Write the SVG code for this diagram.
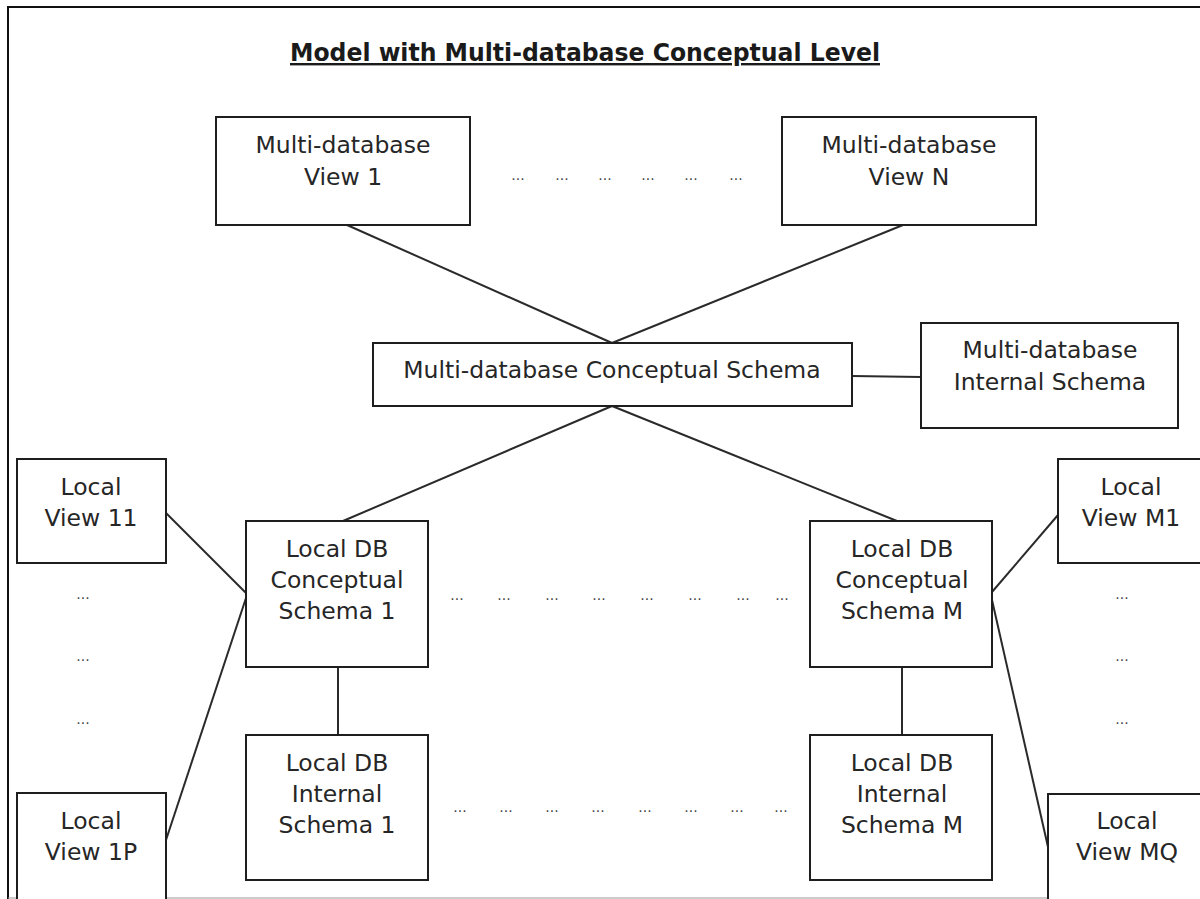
<svg xmlns="http://www.w3.org/2000/svg" width="1200" height="899" viewBox="0 0 1200 899">
  <style>
    .box { fill: #ffffff; stroke: #1e1e1e; stroke-width: 2; }
    .edge { fill: none; stroke: #2a2a2a; stroke-width: 2; }
    .lbl { font-family: "DejaVu Sans", Verdana, sans-serif; font-size: 23.5px; fill: #262626; text-anchor: middle; }
    .dots { font-family: "DejaVu Sans", Verdana, sans-serif; font-size: 14px; fill: #444444; text-anchor: middle; }
    .title { font-family: "DejaVu Sans Condensed", "DejaVu Sans", sans-serif; font-weight: bold; font-size: 24px; fill: #1a1a1a; text-anchor: middle; text-decoration: underline; }
  </style>
  <rect x="0" y="0" width="1200" height="899" fill="#ffffff"/>
  <!-- outer frame -->
  <path d="M8 899 V7 H1200" fill="none" stroke="#111111" stroke-width="2"/>
  <line x1="8" y1="898" x2="1200" y2="898" stroke="#999999" stroke-width="1"/>

  <text class="title" x="585" y="61" textLength="590" lengthAdjust="spacingAndGlyphs">Model with Multi-database Conceptual Level</text>

  <g id="connectors">
    <line class="edge" x1="347" y1="225" x2="612" y2="343"/>
    <line class="edge" x1="903" y1="225" x2="612" y2="343"/>
    <line class="edge" x1="852" y1="376" x2="921" y2="377"/>
    <line class="edge" x1="612" y1="406" x2="343" y2="521"/>
    <line class="edge" x1="612" y1="406" x2="897" y2="521"/>
    <line class="edge" x1="166" y1="513" x2="246" y2="593"/>
    <line class="edge" x1="166" y1="840" x2="246" y2="598"/>
    <line class="edge" x1="1058" y1="515" x2="992" y2="592"/>
    <line class="edge" x1="1048" y1="847" x2="992" y2="600"/>
    <line class="edge" x1="338" y1="667" x2="338" y2="735"/>
    <line class="edge" x1="902" y1="667" x2="902" y2="735"/>
  </g>

  <g id="mdb-view-1">
    <rect class="box" x="216" y="117" width="254" height="108"/>
    <text class="lbl" x="343" y="153">Multi-database</text>
    <text class="lbl" x="343" y="185">View 1</text>
  </g>
  <g id="mdb-view-n">
    <rect class="box" x="782" y="117" width="254" height="108"/>
    <text class="lbl" x="909" y="153">Multi-database</text>
    <text class="lbl" x="909" y="185">View N</text>
  </g>
  <g id="mdb-conceptual">
    <rect class="box" x="373" y="343" width="479" height="63"/>
    <text class="lbl" x="612" y="378">Multi-database Conceptual Schema</text>
  </g>
  <g id="mdb-internal">
    <rect class="box" x="921" y="323" width="257" height="105"/>
    <text class="lbl" x="1050" y="358">Multi-database</text>
    <text class="lbl" x="1050" y="390">Internal Schema</text>
  </g>
  <g id="local-conceptual-1">
    <rect class="box" x="246" y="521" width="182" height="146"/>
    <text class="lbl" x="337" y="557">Local DB</text>
    <text class="lbl" x="337" y="588">Conceptual</text>
    <text class="lbl" x="337" y="619">Schema 1</text>
  </g>
  <g id="local-conceptual-m">
    <rect class="box" x="810" y="521" width="182" height="146"/>
    <text class="lbl" x="902" y="557">Local DB</text>
    <text class="lbl" x="902" y="588">Conceptual</text>
    <text class="lbl" x="902" y="619">Schema M</text>
  </g>
  <g id="local-internal-1">
    <rect class="box" x="246" y="735" width="182" height="145"/>
    <text class="lbl" x="337" y="771">Local DB</text>
    <text class="lbl" x="337" y="802">Internal</text>
    <text class="lbl" x="337" y="833">Schema 1</text>
  </g>
  <g id="local-internal-m">
    <rect class="box" x="810" y="735" width="182" height="145"/>
    <text class="lbl" x="902" y="771">Local DB</text>
    <text class="lbl" x="902" y="802">Internal</text>
    <text class="lbl" x="902" y="833">Schema M</text>
  </g>
  <g id="local-view-11">
    <rect class="box" x="17" y="459" width="149" height="104"/>
    <text class="lbl" x="91" y="495">Local</text>
    <text class="lbl" x="91" y="526">View 11</text>
  </g>
  <g id="local-view-1p">
    <rect class="box" x="17" y="793" width="149" height="120"/>
    <text class="lbl" x="91" y="829">Local</text>
    <text class="lbl" x="91" y="860">View 1P</text>
  </g>
  <g id="local-view-m1">
    <rect class="box" x="1058" y="459" width="160" height="104"/>
    <text class="lbl" x="1131" y="495">Local</text>
    <text class="lbl" x="1131" y="526">View M1</text>
  </g>
  <g id="local-view-mq">
    <rect class="box" x="1048" y="794" width="170" height="120"/>
    <text class="lbl" x="1127" y="829">Local</text>
    <text class="lbl" x="1127" y="860">View MQ</text>
  </g>

  <!-- ellipsis markers -->
  <g class="dots">
    <text x="518" y="180">...</text>
    <text x="562" y="180">...</text>
    <text x="605" y="180">...</text>
    <text x="648" y="180">...</text>
    <text x="691" y="180">...</text>
    <text x="736" y="180">...</text>

    <text x="457" y="600">...</text>
    <text x="504" y="600">...</text>
    <text x="552" y="600">...</text>
    <text x="599" y="600">...</text>
    <text x="647" y="600">...</text>
    <text x="695" y="600">...</text>
    <text x="743" y="600">...</text>
    <text x="782" y="600">...</text>

    <text x="460" y="812">...</text>
    <text x="506" y="812">...</text>
    <text x="552" y="812">...</text>
    <text x="598" y="812">...</text>
    <text x="645" y="812">...</text>
    <text x="691" y="812">...</text>
    <text x="737" y="812">...</text>
    <text x="781" y="812">...</text>

    <text x="83" y="599">...</text>
    <text x="83" y="661">...</text>
    <text x="83" y="724">...</text>
    <text x="1122" y="599">...</text>
    <text x="1122" y="661">...</text>
    <text x="1122" y="724">...</text>
  </g>
</svg>
